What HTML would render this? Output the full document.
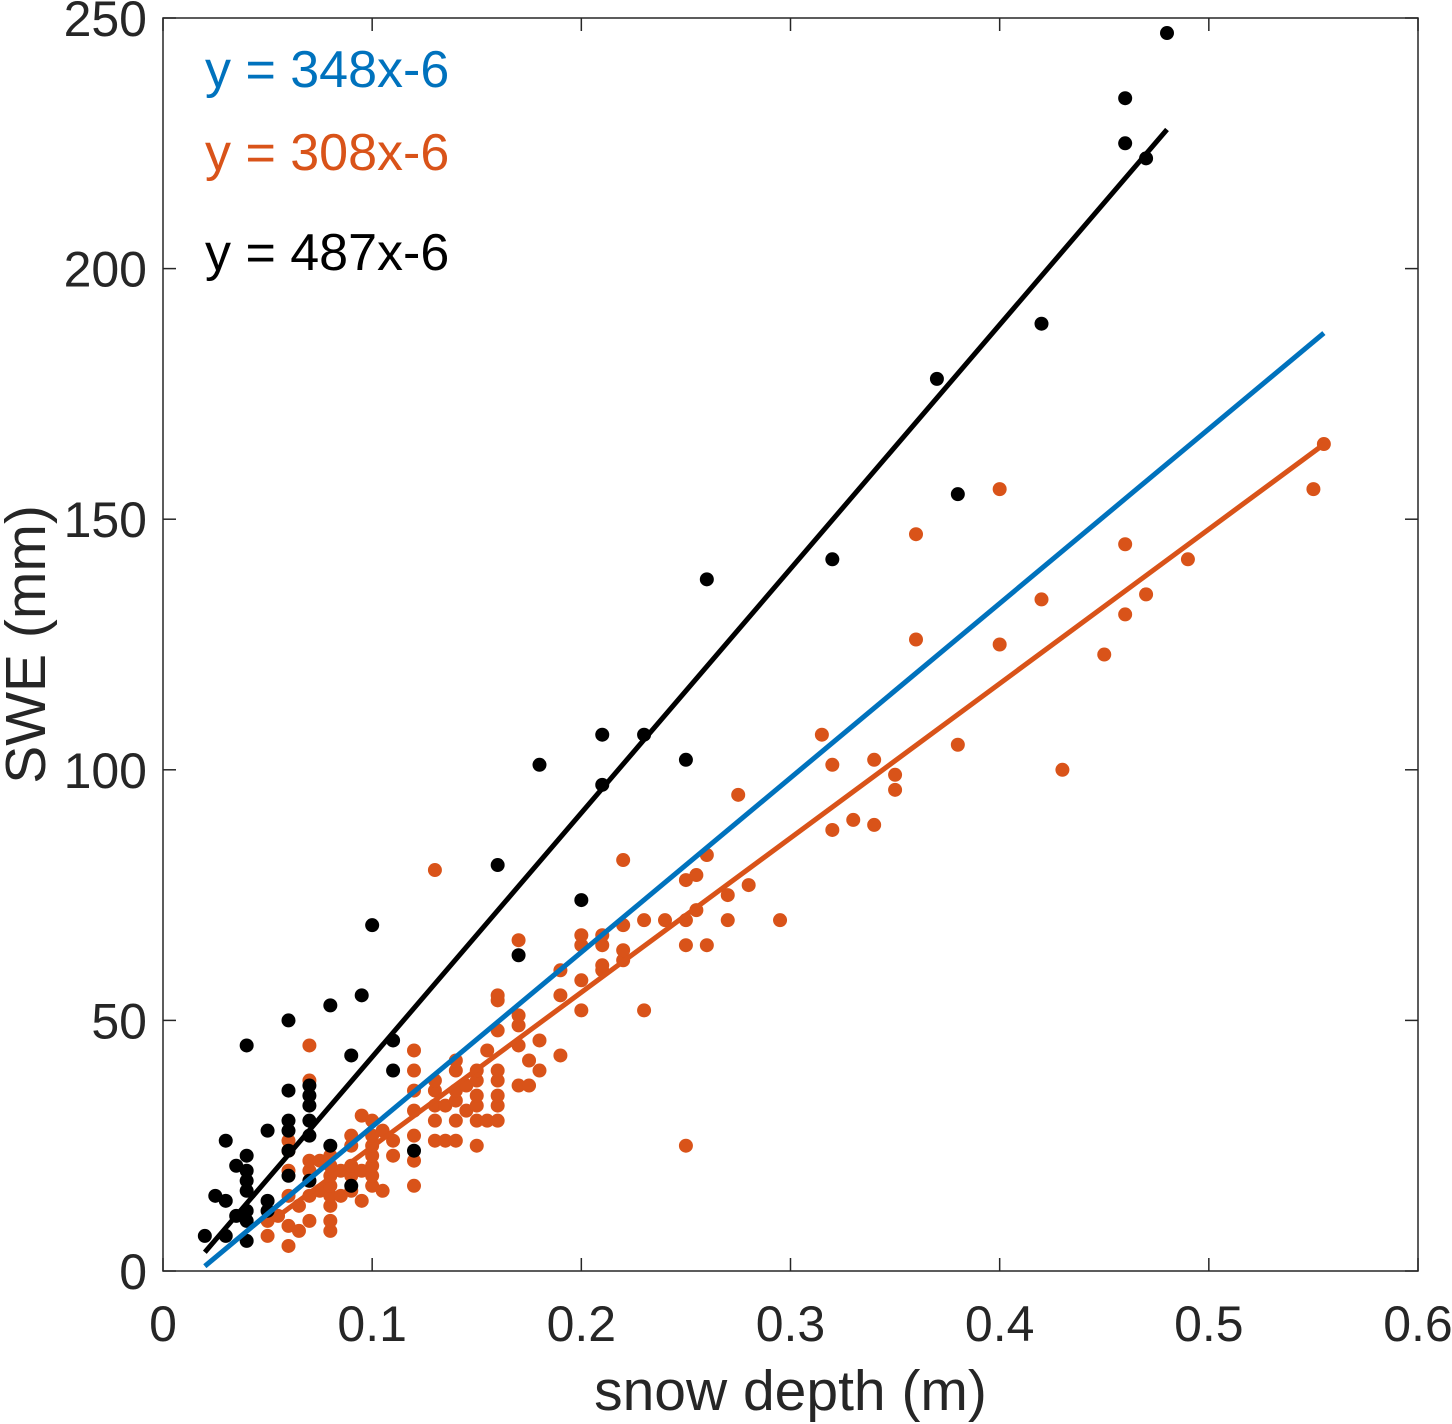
<!DOCTYPE html>
<html><head><meta charset="utf-8"><style>
body{margin:0;background:#fff;}
svg{display:block;font-family:"Liberation Sans",sans-serif;}
</style></head><body>
<svg id="chart" width="1452" height="1424" viewBox="0 0 1452 1424" xmlns="http://www.w3.org/2000/svg"></svg>
<script>
const xTicks=[0,0.1,0.2,0.3,0.4,0.5,0.6];
const xTickLabels=["0","0.1","0.2","0.3","0.4","0.5","0.6"];
const yTicks=[0,50,100,150,200,250];
const yTickLabels=["0","50","100","150","200","250"];
const blackX=[0.02,0.025,0.03,0.03,0.03,0.035,0.035,0.04,0.04,0.04,0.04,0.04,0.04,0.04,0.04,0.05,0.05,0.05,0.06,0.06,0.06,0.06,0.06,0.06,0.07,0.07,0.07,0.07,0.07,0.07,0.08,0.08,0.09,0.09,0.095,0.1,0.11,0.11,0.12,0.16,0.17,0.18,0.2,0.21,0.21,0.23,0.25,0.26,0.32,0.37,0.38,0.42,0.46,0.46,0.47,0.48];
const blackY=[7,15,26,14,7,21,11,45,23,20,18,16,12,10,6,28,14,12,50,36,30,28,24,19,37,35,33,30,27,18,53,25,43,17,55,69,46,40,24,81,63,101,74,107,97,107,102,138,142,178,155,189,234,225,222,247];
const orangeX=[0.05,0.05,0.055,0.06,0.06,0.06,0.06,0.06,0.06,0.065,0.065,0.07,0.07,0.07,0.07,0.07,0.07,0.07,0.075,0.075,0.08,0.08,0.08,0.08,0.08,0.08,0.08,0.08,0.085,0.085,0.09,0.09,0.09,0.09,0.09,0.095,0.095,0.095,0.1,0.1,0.1,0.1,0.1,0.1,0.1,0.105,0.105,0.11,0.11,0.12,0.12,0.12,0.12,0.12,0.12,0.12,0.13,0.13,0.13,0.13,0.13,0.13,0.135,0.135,0.14,0.14,0.14,0.14,0.14,0.14,0.145,0.145,0.15,0.15,0.15,0.15,0.15,0.15,0.155,0.155,0.16,0.16,0.16,0.16,0.16,0.16,0.16,0.16,0.17,0.17,0.17,0.17,0.17,0.175,0.175,0.18,0.18,0.19,0.19,0.19,0.2,0.2,0.2,0.2,0.21,0.21,0.21,0.21,0.22,0.22,0.22,0.22,0.23,0.23,0.24,0.25,0.25,0.25,0.25,0.255,0.255,0.26,0.26,0.27,0.27,0.275,0.28,0.295,0.315,0.32,0.32,0.33,0.34,0.34,0.35,0.35,0.36,0.36,0.38,0.4,0.4,0.42,0.43,0.45,0.46,0.46,0.47,0.49,0.55,0.555];
const orangeY=[7,10,11,5,9,15,20,24,26,8,13,10,15,18,20,22,38,45,16,22,8,10,13,15,17,19,21,23,15,20,16,19,21,25,27,14,20,31,17,19,21,23,25,27,30,16,28,23,26,17,22,27,32,36,40,44,26,30,33,36,38,80,26,33,26,30,34,36,40,42,32,37,25,30,33,35,38,40,30,44,30,33,35,38,40,48,54,55,37,45,49,51,66,37,42,40,46,43,55,60,52,58,65,67,60,61,65,67,62,64,69,82,52,70,70,25,65,70,78,72,79,65,83,70,75,95,77,70,107,88,101,90,89,102,96,99,126,147,105,125,156,134,100,123,131,145,135,142,156,165];
const fitSlopes=[487,348,308];
const fitIntercepts=[-6,-6,-6];
const fitRanges=[[0.02,0.48],[0.02,0.555],[0.05,0.555]];
const fitColors=["#000000","#0072BD","#D95319"];
const fitNames=["black-fit-line","blue-fit-line","orange-fit-line"];
const eqLabels=["y = 348x-6","y = 308x-6","y = 487x-6"];
const eqColors=["#0072BD","#D95319","#000000"];

const L=163,R=1418,T=18,B=1271;
const sx=v=>L+(v-0)/(0.6)*(R-L);
const sy=v=>B-(v-0)/250*(B-T);
const svg=document.getElementById('chart');
const NS="http://www.w3.org/2000/svg";
function mk(tag,attrs,parent){const e=document.createElementNS(NS,tag);for(const k in attrs)e.setAttribute(k,attrs[k]);(parent||svg).appendChild(e);return e;}

const frame=mk('rect',{x:L,y:T,width:R-L,height:B-T,fill:'#fff',stroke:'#262626','stroke-width':1.5});



xTicks.forEach((t,i)=>{
  const x=sx(t);
  mk('line',{x1:x,y1:B,x2:x,y2:B-13,stroke:'#262626','stroke-width':1.5});
  mk('line',{x1:x,y1:T,x2:x,y2:T+13,stroke:'#262626','stroke-width':1.5});
  const tx=mk('text',{x:x,y:B+70,'text-anchor':'middle','font-size':50,fill:'#262626'});
  tx.textContent=xTickLabels[i];
  
  
});
yTicks.forEach((t,i)=>{
  const y=sy(t);
  mk('line',{x1:L,y1:y,x2:L+13,y2:y,stroke:'#262626','stroke-width':1.5});
  mk('line',{x1:R,y1:y,x2:R-13,y2:y,stroke:'#262626','stroke-width':1.5});
  const tx=mk('text',{x:L-16,y:y+18,'text-anchor':'end','font-size':50,fill:'#262626'});
  tx.textContent=yTickLabels[i];
  
  
});

const gO=mk('g',{fill:'#D95319'});


orangeX.forEach((v,i)=>{const c=mk('circle',{cx:sx(v),cy:sy(orangeY[i]),r:7},gO);

});
const gB=mk('g',{fill:'#000'});


blackX.forEach((v,i)=>{const c=mk('circle',{cx:sx(v),cy:sy(blackY[i]),r:7},gB);

});

fitSlopes.forEach((m,i)=>{
  const [a,b]=fitRanges[i];
  const ln=mk('line',{x1:sx(a),y1:sy(m*a+fitIntercepts[i]),x2:sx(b),y2:sy(m*b+fitIntercepts[i]),stroke:fitColors[i],'stroke-width':5});
  
  
});

const eqY=[87,170,270];
eqLabels.forEach((s,i)=>{
  const tx=mk('text',{x:205,y:eqY[i],'font-size':52,fill:eqColors[i]});
  tx.textContent=s;
  
  
});

const xt=mk('text',{x:(L+R)/2,y:1410,'text-anchor':'middle','font-size':57,fill:'#262626'});
xt.textContent='snow depth (m)';


const yt=mk('text',{x:0,y:0,'text-anchor':'middle','font-size':57,fill:'#262626',transform:`translate(45,${(T+B)/2}) rotate(-90)`});
yt.textContent='SWE (mm)';


</script>
</body></html>
